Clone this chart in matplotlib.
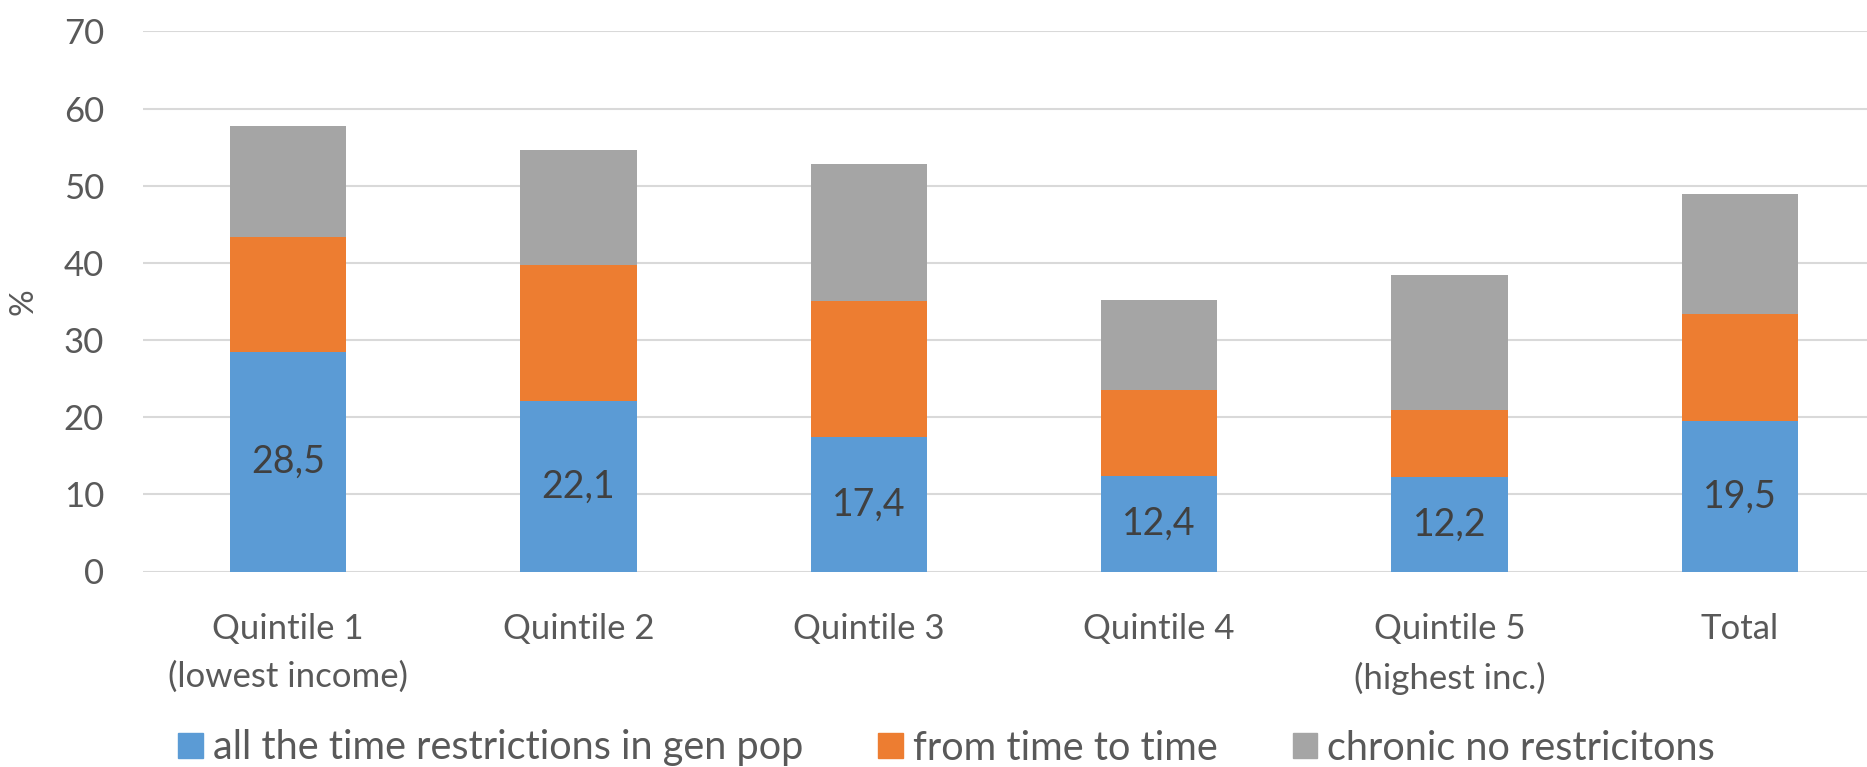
import numpy as np
import matplotlib.pyplot as plt
from matplotlib.patches import Patch

categories = ['Quintile 1\n(lowest income)', 'Quintile 2', 'Quintile 3',
              'Quintile 4', 'Quintile 5\n(highest inc.)', 'Total']
all_time = [28.5, 22.1, 17.4, 12.4, 12.2, 19.5]
time_to_time = [14.8, 17.6, 17.7, 11.1, 8.7, 13.9]
chronic = [14.5, 15.0, 17.7, 11.7, 17.5, 15.5]
series_names = ['all the time restrictions in gen pop', 'from time to time',
                'chronic no restricitons']
colors = ['#5B9BD5', '#ED7D31', '#A5A5A5']
txt = '#595959'

plt.rcParams['font.family'] = ['Lato', 'DejaVu Sans']

fig = plt.figure(figsize=(18.67, 7.67), dpi=100)
ax = fig.add_axes([143 / 1867, 1 - 571.5 / 767, 1742 / 1867, 540 / 767])

x = np.arange(len(categories))
w = 0.4
ax.bar(x, all_time, w, color=colors[0], zorder=3)
bottom2 = np.array(all_time)
ax.bar(x, time_to_time, w, bottom=bottom2, color=colors[1], zorder=3)
bottom3 = bottom2 + np.array(time_to_time)
ax.bar(x, chronic, w, bottom=bottom3, color=colors[2], zorder=3)

# value labels in the blue segment
for xi, v in zip(x, all_time):
    ax.text(xi, v / 2, f'{v:.1f}'.replace('.', ','), ha='center', va='center',
            fontsize=27, color='#404040', zorder=4)

ax.set_xlim(-0.5, len(categories) - 0.5)
ax.set_ylim(0, 70)
ax.set_yticks(np.arange(0, 71, 10))
ax.grid(axis='y', color='#D9D9D9', linewidth=1.5, zorder=0)
for s in ax.spines.values():
    s.set_visible(False)
ax.tick_params(axis='both', length=0, labelsize=25, colors=txt)
ax.tick_params(axis='y', pad=28)
ax.tick_params(axis='x', pad=30)
ax.set_xticks(x)
ax.set_xticklabels(categories, linespacing=1.6)
ax.set_ylabel('%', fontsize=24, color=txt, labelpad=18)

handles = [Patch(color=c) for c in colors]
fig.legend(handles, series_names, loc='center', bbox_to_anchor=(0.507, 1 - 748 / 767),
           ncol=3, frameon=False, fontsize=28.5, labelcolor=txt,
           handlelength=0.62, handleheight=0.62, handletextpad=0.25, columnspacing=1.9)

fig.savefig('out.png', dpi=100)
